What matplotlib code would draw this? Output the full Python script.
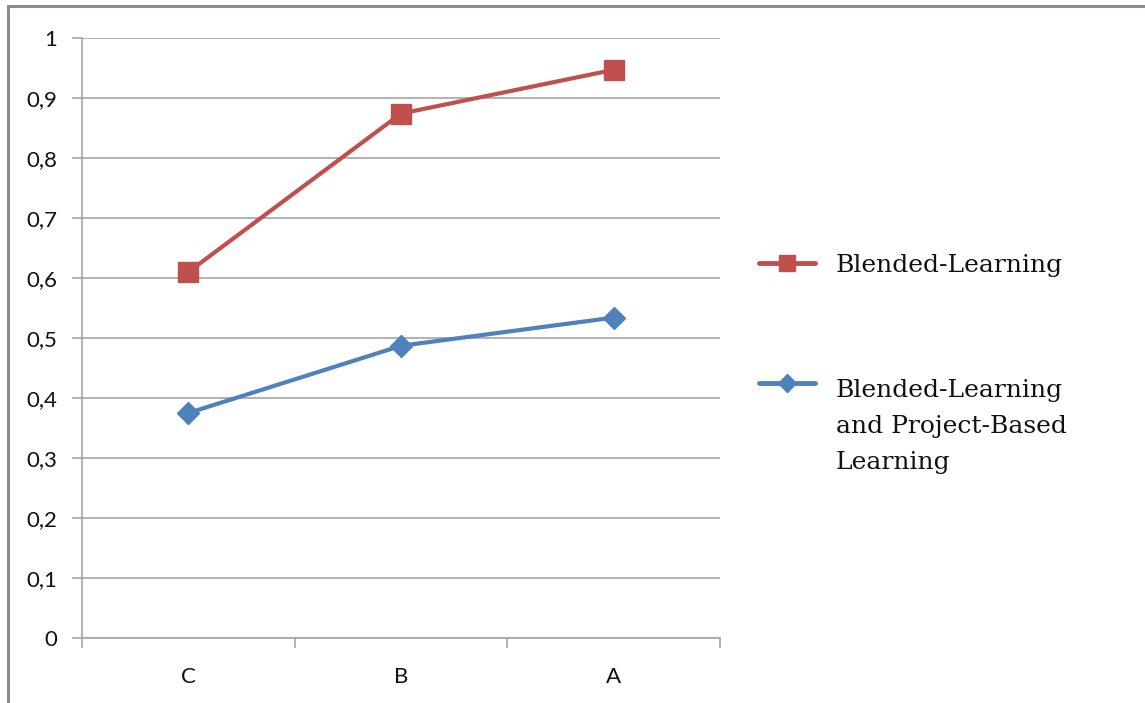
import matplotlib
matplotlib.use("Agg")
import matplotlib.pyplot as plt
from matplotlib.lines import Line2D
from matplotlib.ticker import FixedLocator, FuncFormatter

categories = ["C", "B", "A"]
blended = [0.61, 0.874, 0.947]
blended_pbl = [0.375, 0.487, 0.534]
series_labels = ["Blended-Learning", "Blended-Learning\nand Project-Based\nLearning"]

RED = "#C0504D"
BLUE = "#4F81BD"
GRID = "#A6A6A6"

W, H = 1145, 703
fig = plt.figure(figsize=(W / 100, H / 100), dpi=100)
ax = fig.add_axes([82 / W, 1 - 638 / H, (720 - 82) / W, (638 - 38) / H])

x = list(range(len(categories)))
ax.plot(x, blended, color=RED, lw=3, marker="s", ms=14.5, zorder=3)
ax.plot(x, blended_pbl, color=BLUE, lw=3, marker="D", ms=11, zorder=3)

ax.set_xlim(-0.5, len(categories) - 0.5)
ax.set_ylim(0, 1)

# y axis
ax.yaxis.set_major_locator(FixedLocator([i / 10 for i in range(11)]))
ax.yaxis.set_major_formatter(FuncFormatter(lambda v, p: "0" if v == 0 else ("1" if v == 1 else f"{v:.1f}".replace(".", ","))))
ax.grid(axis="y", color=GRID, lw=1.2)
ax.set_axisbelow(True)

# x axis: labels at centers, tick marks at boundaries
ax.set_xticks(x)
ax.set_xticklabels(categories)
ax.set_xticks([i - 0.5 for i in range(len(categories) + 1)], minor=True)
ax.tick_params(axis="x", which="major", length=0, pad=21)
ax.tick_params(axis="x", which="minor", length=7, width=1.2, color=GRID)
ax.tick_params(axis="y", length=7, width=1.2, color=GRID, pad=11)
for lab in ax.get_xticklabels() + ax.get_yticklabels():
    lab.set_fontfamily("Lato")
    lab.set_fontsize(16)
    lab.set_color("#111111")

for s in ["top", "right"]:
    ax.spines[s].set_visible(False)
ax.spines["left"].set_color(GRID)
ax.spines["bottom"].set_color(GRID)
ax.spines["left"].set_linewidth(1.2)
ax.spines["bottom"].set_linewidth(1.2)

# legend drawn by hand so the handle lines up with the first text line
leg_y = [263, 383]
leg_base = [272, 397]
line_step = 36
for col, mk, ms, yy, yb, lab in zip([RED, BLUE], ["s", "D"], [12, 9.5], leg_y, leg_base, series_labels):
    fig.add_artist(Line2D([759 / W, 815 / W], [1 - yy / H] * 2, color=col, lw=3.5, solid_capstyle="round"))
    fig.add_artist(Line2D([787 / W], [1 - yy / H], color=col, marker=mk, ms=ms, lw=0))
    for i, part in enumerate(lab.split("\n")):
        fig.text(836 / W, 1 - (yb + i * line_step) / H, part, family="DejaVu Serif", fontsize=18,
                 va="baseline", ha="left", color="#111111")

# outer frame (top and left visible)
fig.add_artist(Line2D([7.5 / W, 1], [1 - 5.5 / H] * 2, color="#8C8C8C", lw=2.2))
fig.add_artist(Line2D([7.5 / W] * 2, [0, 1 - 5.5 / H], color="#8C8C8C", lw=2.2))

fig.savefig("out.png", dpi=100)
